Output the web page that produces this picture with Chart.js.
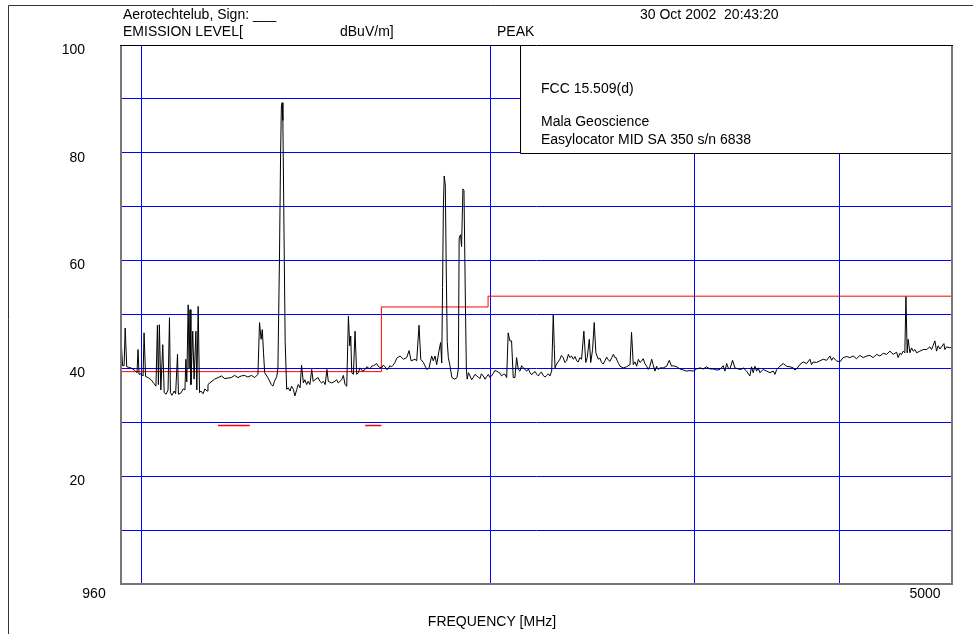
<!DOCTYPE html>
<html>
<head>
<meta charset="utf-8">
<script src="https://cdn.jsdelivr.net/npm/chart.js@4/dist/chart.umd.min.js"></script>
<style>
  html, body { margin: 0; padding: 0; background: #fff; }
  #wrap { width: 973px; height: 634px; position: relative; }
</style>
</head>
<body>
<div id="wrap"><canvas id="plot" width="973" height="634"></canvas></div>
<script>
// ---- axis definitions -------------------------------------------------
const freqRange = [960, 5000];                 // MHz, log axis
const freqGrid = [1000, 2000, 3000, 4000];     // vertical grid lines
const freqLabels = [960, 5000];                // labelled frequencies
const levelGrid = [0, 10, 20, 30, 40, 50, 60, 70, 80, 90, 100]; // dBuV/m
const levelLabels = [20, 40, 60, 80, 100];

// ---- FCC 15.509(d) limit (dBuV/m) ---------------------------------------
const limitFreq = [960, 1610, 1990, 5000];
const limitLevel = [39.4, 51.4, 53.4, 53.4];
const gpsBands = [[1164, 1240], [1559, 1610]];
const gpsLevel = 29.4;

// ---- measured peak sweep, [MHz, dBuV/m] ---------------------------------
const sweepLow = [
  [961,44.0],[963,40.5],[966,40.5],[968,47.5],[971,40.3],[975,40.2],[981,40.0],[987,39.6],
  [991,39.2],[993,43.5],[995,38.9],[999,39.0],[1003,38.6],[1005,46.6],[1008,38.5],[1013,38.3],
  [1019,37.9],[1025,37.2],[1029,36.7],[1032,48.0],[1034,37.0],[1036,48.1],[1039,36.0],[1043,44.4],
  [1046,35.5],[1050,35.2],[1054,36.0],[1057,49.4],[1059,35.5],[1062,35.0],[1067,35.8],[1070,35.3],
  [1074,42.6],[1076,35.2],[1082,35.5],[1086,36.2],[1090,36.0],[1092,41.7],[1094,37.5],[1097,51.8],
  [1099,40.0],[1101,50.9],[1103,37.0],[1107,46.9],[1110,38.0],[1114,46.9],[1116,36.0],[1119,51.5],
  [1122,35.5],[1125,35.8],[1130,35.3],[1134,36.2],[1139,35.8],[1141,37.0],[1148,37.5],[1156,38.0],
  [1164,38.3],[1172,38.6],[1180,38.1],[1187,38.2],[1195,38.3],[1203,38.7],[1211,38.3],[1219,38.6],
  [1227,38.7],[1235,38.4],[1244,38.7],[1252,38.3],[1260,38.9],[1264,48.5],[1268,45.4],[1271,47.2],
  [1274,43.0],[1277,39.2],[1285,38.3],[1294,37.0],[1298,36.7],[1302,37.6],[1308,38.5],[1311,40.0],
  [1315,60.0],[1318,80.0],[1320,88.5],[1322,89.3],[1324,86.0],[1327,65.0],[1330,45.0]
];
const sweepMid = [
  [1334,36.1],[1338,36.4],[1343,35.8],[1347,36.7],[1352,36.1],[1356,34.9],[1361,36.1],[1365,37.0],
  [1370,36.4],[1374,40.6],[1379,37.3],[1383,37.9],[1388,37.0],[1392,37.6],[1397,37.0],[1402,39.8],
  [1406,37.6],[1411,37.9],[1420,38.3],[1425,37.6],[1430,37.3],[1435,37.6],[1440,37.0],[1445,39.8],
  [1449,37.6],[1459,37.3],[1468,37.6],[1473,37.9],[1478,37.3],[1488,37.9],[1493,38.7],[1498,37.0],
  [1503,36.7],[1508,49.7],[1512,44.2],[1515,46.0],[1518,39.2],[1523,38.9],[1528,46.9],[1533,38.9],
  [1538,39.2],[1543,40.1],[1551,39.5],[1559,39.8],[1564,40.3],[1569,40.1],[1574,39.9],[1579,40.4],
  [1585,40.5],[1590,40.7],[1595,40.9],[1600,40.4],[1605,40.2],[1611,40.1],[1616,40.6],[1622,40.3],
  [1627,39.8],[1632,39.9],[1637,40.5],[1643,40.3],[1648,40.6],[1654,41.1],[1660,41.9],[1671,42.3],
  [1682,41.7],[1693,42.0],[1701,43.3],[1708,41.4],[1721,41.7],[1727,41.4],[1735,48.0],[1741,41.7],
  [1750,41.1],[1762,39.8],[1770,40.1],[1779,42.3],[1785,41.4],[1791,42.3],[1797,40.7],[1805,43.2],
  [1811,44.8],[1815,41.0],[1818,55.0],[1821,70.0],[1824,75.7],[1828,74.0],[1831,60.0],[1835,45.0],
  [1839,42.0],[1845,40.5],[1852,38.3],[1863,38.0],[1871,38.3],[1876,40.0],[1879,64.2],[1884,64.8],
  [1888,62.6],[1893,73.3],[1897,73.0],[1903,50.0],[1906,40.0],[1909,38.0]
];
const sweepUpper = [
  [1914,39.2],[1920,38.6],[1926,37.9],[1932,38.3],[1939,38.9],[1946,38.6],[1952,38.4],[1958,38.1],
  [1964,39.0],[1971,38.6],[1978,38.0],[1985,38.5],[1991,38.9],[1997,38.3],[2004,38.6],[2011,39.1],
  [2017,39.6],[2024,39.5],[2031,39.3],[2038,39.1],[2044,38.6],[2051,38.9],[2058,38.9],[2065,38.3],
  [2071,46.6],[2078,45.1],[2085,45.1],[2092,38.3],[2099,38.3],[2106,42.0],[2113,39.8],[2120,39.5],
  [2127,40.5],[2134,40.1],[2141,39.8],[2149,39.5],[2156,39.9],[2163,39.2],[2170,38.8],[2177,39.2],
  [2185,39.4],[2192,38.9],[2199,38.6],[2206,39.1],[2213,39.3],[2220,38.7],[2228,38.4],[2236,38.7],
  [2243,39.0],[2250,38.6],[2258,39.5],[2265,50.0],[2270,43.5],[2273,40.1],[2280,40.8],[2295,41.7],
  [2302,42.4],[2310,42.0],[2318,41.1],[2326,41.4],[2334,42.6],[2341,42.0],[2349,42.3],[2357,41.7],
  [2365,42.2],[2373,41.4],[2380,41.2],[2388,42.0],[2396,41.7],[2407,46.9],[2416,41.1],[2423,42.0],
  [2433,45.4],[2440,41.1],[2449,43.5],[2457,48.5],[2465,42.9],[2477,41.7],[2485,41.9],[2493,41.1],
  [2501,40.8],[2510,41.4],[2518,42.1],[2526,41.6],[2535,41.3],[2544,42.0],[2552,42.6],[2560,42.0],
  [2566,42.0],[2572,41.4],[2579,40.9],[2586,40.4]
];
const sweepHigh = [
  [2603,40.1],[2620,40.3],[2638,40.7],[2646,46.7],[2655,40.7],[2664,41.2],[2673,40.4],[2682,41.7],
  [2691,41.1],[2700,41.4],[2708,41.8],[2717,40.9],[2727,40.4],[2735,39.8],[2744,40.4],[2754,41.7],
  [2762,40.7],[2772,39.5],[2781,40.4],[2790,39.8],[2800,40.1],[2818,40.1],[2837,40.4],[2852,41.5],
  [2865,40.4],[2874,40.5],[2894,40.3],[2913,39.9],[2932,39.7],[2952,39.5],[2971,39.6],[2991,39.5],
  [3011,39.9],[3031,40.1],[3051,39.9],[3071,40.3],[3092,39.9],[3112,39.9],[3133,39.7],[3154,39.8],
  [3174,40.5],[3185,39.5],[3196,40.9],[3206,40.1],[3217,39.9],[3234,41.5],[3249,40.1],[3270,39.9],
  [3292,39.8],[3303,40.1],[3325,39.5],[3347,38.6],[3358,40.3],[3369,39.2],[3381,40.4],[3392,39.5],
  [3403,40.1],[3414,39.2],[3437,39.8],[3460,39.5],[3483,39.2],[3506,39.5],[3518,38.9],[3530,39.8],
  [3553,40.4],[3576,40.9],[3600,40.4],[3624,40.3],[3648,40.1],[3660,39.7],[3672,39.9],[3696,40.7],
  [3721,41.2],[3746,40.9],[3771,41.7],[3783,40.7],[3796,41.2],[3821,41.1],[3846,41.4],[3872,41.7],
  [3898,41.5],[3923,42.3],[3937,41.5],[3949,42.0],[3976,41.4],[4002,41.2],[4028,42.0],[4056,42.2],
  [4082,42.0],[4109,42.3],[4137,41.8],[4164,42.4],[4192,42.0],[4220,42.3],[4248,42.4],[4276,42.0],
  [4305,42.6],[4333,42.3],[4362,42.8],[4391,42.6],[4420,43.2],[4449,42.6],[4479,43.0],[4493,42.0],
  [4508,42.8],[4524,42.6],[4538,43.2],[4553,42.9],[4563,53.3],[4574,42.9],[4583,45.4],[4599,42.9],
  [4614,43.8],[4629,43.2],[4645,43.5],[4661,42.9],[4691,43.2],[4722,43.5],[4754,43.5],[4785,44.0],
  [4801,43.5],[4817,44.3],[4833,45.1],[4849,43.2],[4865,44.2],[4881,43.6],[4898,44.0],[4920,44.6],
  [4930,43.5],[4947,44.0],[4979,43.8],[5000,44.0]
];

// ---- page texts -------------------------------------------------------
const headerLeft = ['Aerotechtelub, Sign: ___', 'EMISSION LEVEL['];
const unitText = 'dBuV/m]';
const detectorText = 'PEAK';
const stampText = '30 Oct 2002  20:43:20';
const noteLines = ['FCC 15.509(d)', 'Mala Geoscience', 'Easylocator MID SA 350 s/n 6838'];
const noteBox = { fromFreq: 2120, topLevel: 100, bottomLevel: 80 };
const axisTitle = 'FREQUENCY [MHz]';

// ---- build datasets ----------------------------------------------------
const toPts = arr => arr.map(([f, v]) => ({ x: f, y: v }));
const trace = [].concat(toPts(sweepLow), toPts(sweepMid), toPts(sweepUpper), toPts(sweepHigh));
const limitPts = limitFreq.map((f, i) => ({ x: f, y: limitLevel[i] }));
const gpsPts = [];
gpsBands.forEach(([a, b], i) => {
  if (i > 0) gpsPts.push({ x: (gpsBands[i - 1][1] + a) / 2, y: null });
  gpsPts.push({ x: a, y: gpsLevel }, { x: b, y: gpsLevel });
});

const FONT = "'Liberation Sans', Arial, Helvetica, sans-serif";
Chart.defaults.font.family = FONT;
Chart.defaults.font.size = 14;
Chart.defaults.color = '#000';

// texts, note box and frame lines drawn around the plot
const decor = {
  id: 'decor',
  beforeDatasetsDraw(chart) {
    const { ctx, scales: { x, y }, chartArea: ca } = chart;
    const l = Math.round(x.getPixelForValue(noteBox.fromFreq));
    const t = Math.round(y.getPixelForValue(noteBox.topLevel));
    const b = Math.round(y.getPixelForValue(noteBox.bottomLevel));
    ctx.save();
    ctx.fillStyle = '#fff';
    ctx.fillRect(l, t, ca.right - l, b - t);
    ctx.strokeStyle = '#000';
    ctx.lineWidth = 1;
    ctx.beginPath();
    ctx.moveTo(l + 0.5, t);
    ctx.lineTo(l + 0.5, b + 0.5);
    ctx.lineTo(ca.right, b + 0.5);
    ctx.stroke();
    ctx.fillStyle = '#000';
    ctx.font = '14px ' + FONT;
    ctx.textBaseline = 'middle';
    ctx.textAlign = 'left';
    ctx.fillText(noteLines[0], l + 21, t + 44);
    ctx.fillText(noteLines[1], l + 21, t + 77.5);
    ctx.fillText(noteLines[2], l + 21, t + 95);
    ctx.restore();
  },
  afterDraw(chart) {
    const { ctx, chartArea: ca } = chart;
    ctx.save();
    // plot border
    ctx.strokeStyle = '#777';
    ctx.lineWidth = 2;
    ctx.beginPath();
    ctx.moveTo(ca.left, ca.top);
    ctx.lineTo(ca.left, ca.bottom);
    ctx.lineTo(ca.right, ca.bottom);
    ctx.lineTo(ca.right, ca.top);
    ctx.stroke();
    ctx.strokeStyle = '#000';
    ctx.lineWidth = 1;
    ctx.beginPath();
    ctx.moveTo(ca.left - 1, ca.top + 0.5);
    ctx.lineTo(ca.right + 1, ca.top + 0.5);
    ctx.stroke();
    // page frame
    ctx.strokeStyle = '#333';
    ctx.beginPath();
    ctx.moveTo(chart.width, 5.5);
    ctx.lineTo(8.5, 5.5);
    ctx.lineTo(8.5, chart.height);
    ctx.stroke();
    // header texts
    ctx.fillStyle = '#000';
    ctx.font = '14px ' + FONT;
    ctx.textBaseline = 'middle';
    ctx.textAlign = 'left';
    ctx.fillText(headerLeft[0], ca.left + 2, 15);
    ctx.fillText(headerLeft[1], ca.left + 2, 32);
    ctx.fillText(unitText, 340, 32);
    ctx.fillText(detectorText, 497, 32);
    ctx.fillText(stampText, 640, 15);
    ctx.textAlign = 'center';
    ctx.fillText(axisTitle, 492, 622);
    ctx.restore();
  }
};

new Chart(document.getElementById('plot'), {
  type: 'line',
  data: {
    datasets: [
      { label: 'Peak', data: trace, borderColor: '#000', borderWidth: 1, pointRadius: 0, tension: 0, order: 1 },
      { label: 'Limit', data: limitPts, borderColor: '#ff0000', borderWidth: 1, pointRadius: 0, stepped: 'before', order: 2 },
      { label: 'GPS', data: gpsPts, borderColor: '#ff0000', borderWidth: 1.5, pointRadius: 0, spanGaps: false, order: 2 }
    ]
  },
  options: {
    responsive: false,
    animation: false,
    devicePixelRatio: 1,
    layout: { padding: { left: 0, right: 21, top: 45, bottom: 0 } },
    plugins: { legend: { display: false }, tooltip: { enabled: false }, title: { display: false } },
    scales: {
      x: {
        type: 'logarithmic',
        min: freqRange[0],
        max: freqRange[1],
        afterBuildTicks: s => { s.ticks = [freqRange[0]].concat(freqGrid, [freqRange[1]]).map(v => ({ value: v })); },
        afterFit: s => { s.height = 50; },
        border: { display: false },
        grid: {
          drawTicks: false,
          lineWidth: 1,
          color: c => (c.tick && freqGrid.includes(c.tick.value)) ? '#0000ff' : 'rgba(0,0,0,0)'
        },
        ticks: {
          autoSkip: false,
          maxRotation: 0,
          padding: 2,
          labelOffset: -27,
          color: '#000',
          font: { size: 14 },
          callback: v => freqLabels.includes(v) ? String(v) : ''
        }
      },
      y: {
        min: 0,
        max: 100,
        afterBuildTicks: s => { s.ticks = levelGrid.map(v => ({ value: v })); },
        afterFit: s => { s.width = 121; },
        border: { display: false },
        grid: {
          drawTicks: false,
          lineWidth: 1,
          color: c => (c.tick && c.tick.value > 0 && c.tick.value < 100) ? '#0000ff' : 'rgba(0,0,0,0)'
        },
        ticks: {
          padding: 36,
          labelOffset: 5,
          color: '#000',
          font: { size: 14 },
          callback: v => levelLabels.includes(v) ? String(v) : ''
        }
      }
    }
  },
  plugins: [decor]
});
</script>
</body>
</html>
